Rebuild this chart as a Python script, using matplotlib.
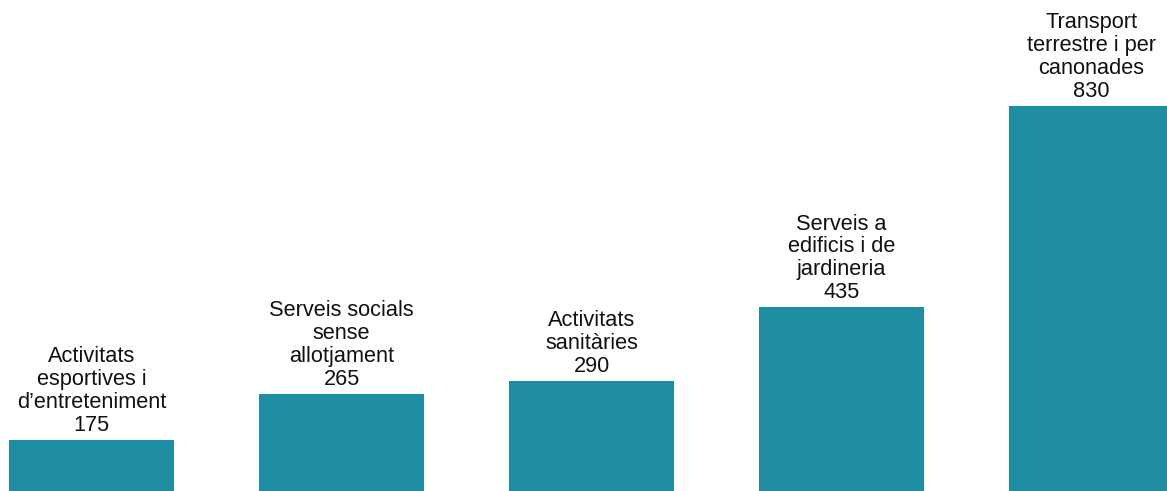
import matplotlib
matplotlib.use("Agg")
import matplotlib.pyplot as plt

# Data
categories = [
    "Activitats\nesportives i\nd\u2019entreteniment",
    "Serveis socials\nsense\nallotjament",
    "Activitats\nsanit\u00e0ries",
    "Serveis a\nedificis i de\njardineria",
    "Transport\nterrestre i per\ncanonades",
]
values = [175, 265, 290, 435, 830]

bar_color = "#1f8ea3"

plt.rcParams['font.family'] = ['Liberation Sans', 'DejaVu Sans']

fig = plt.figure(figsize=(11.67, 4.91), dpi=100)
ax = fig.add_axes([0, 0, 1, 1])

x = range(len(values))
bars = ax.bar(x, values, width=0.66, color=bar_color)

for xi, v, name in zip(x, values, categories):
    ax.annotate(name + "\n" + str(v), xy=(xi, v), xytext=(0, 3),
                textcoords="offset points", ha="center", va="bottom",
                fontsize=15.7, color="#111111", linespacing=1.12)

ax.set_xlim(-0.366, 4.302)
ax.set_ylim(75, 1038)
ax.axis("off")

fig.savefig("out.png", dpi=100)
